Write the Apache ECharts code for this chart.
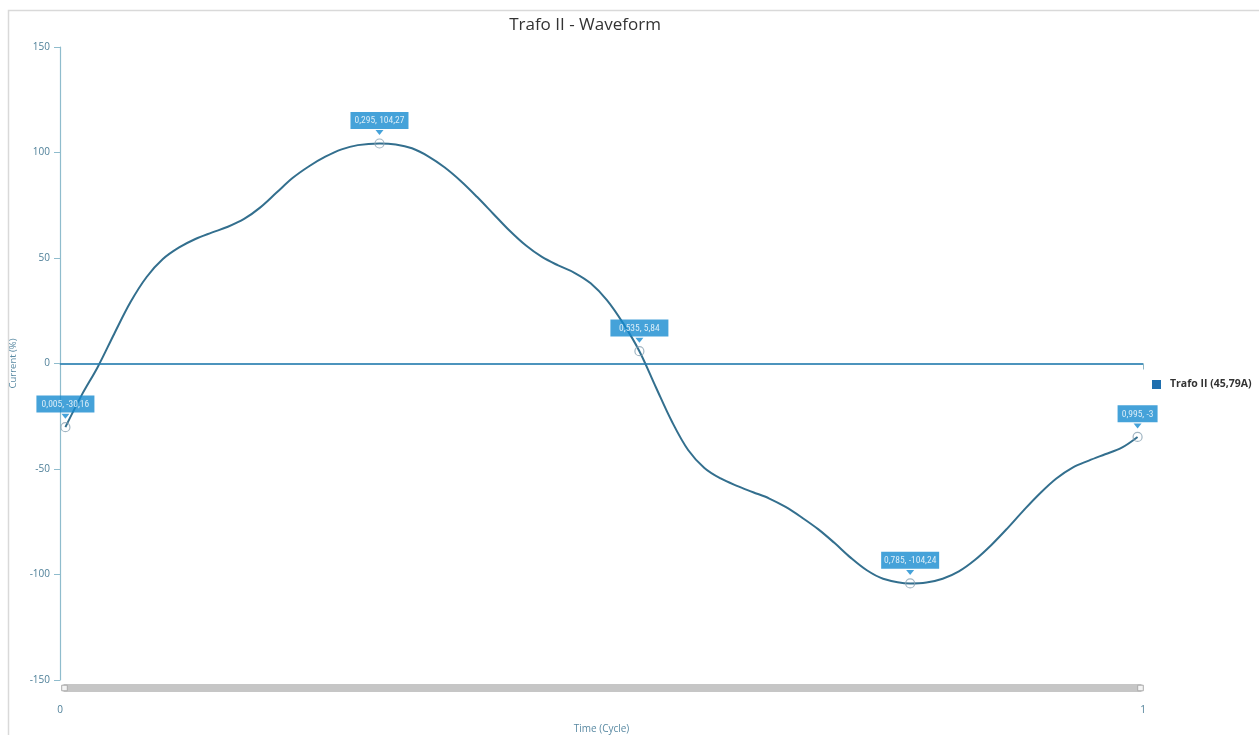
<!DOCTYPE html>
<html>
<head>
<meta charset="utf-8">
<script src="https://cdn.jsdelivr.net/npm/echarts@6/dist/echarts.min.js"></script>
<style>
html,body{margin:0;padding:0;background:#fff;}
#c{width:1259px;height:735px;}
</style>
</head>
<body>
<div id="c"></div>
<script>
// ---- data ----
const seriesName = 'Trafo II (45,79A)';
const titleText = 'Trafo II - Waveform';
const timeValues = [0.005,0.02,0.035,0.05,0.065,0.08,0.095,0.11,0.125,0.14,0.155,0.17,0.185,0.2,0.215,0.23,0.245,0.26,0.275,0.295,0.31,0.325,0.34,0.355,0.37,0.385,0.4,0.415,0.43,0.445,0.46,0.475,0.49,0.505,0.52,0.535,0.55,0.565,0.58,0.595,0.61,0.625,0.64,0.655,0.67,0.685,0.7,0.715,0.73,0.745,0.76,0.785,0.8,0.815,0.83,0.845,0.86,0.875,0.89,0.905,0.92,0.935,0.95,0.965,0.98,0.995];
const currentValues = [-30.16,-15,-1.5,14,29,41,49.5,55,59,62,64.8,68.5,74,81,88,93.5,98,101.5,103.5,104.27,103.8,102,98.2,93,86.5,79,71,63,56,50.5,46.5,43,38,30,19,5.84,-11,-27.5,-41,-49.5,-54.5,-58,-61,-64,-68,-73,-78.5,-85,-92,-98,-102,-104.24,-103.8,-102,-98.5,-93,-86,-78,-69.5,-61.5,-54.5,-49.3,-46,-43,-40,-34.8];
const markTimes = [0.005,0.295,0.535,0.785,0.995];
const markValues = [-30.16,104.27,5.84,-104.24,-34.8];
const yTicks = {min:-150, max:150, interval:50};
const xTicks = {min:0, max:1, interval:1};
const yAxisName = 'Current (%)';
const xAxisName = 'Time (Cycle)';

const fmt = (n, d) => n.toFixed(d).replace('.', ',');
const lineData = timeValues.map((t, i) => [t, currentValues[i]]);
const markData = markTimes.map((t, i) => {
  const item = { value: [t, markValues[i]] };
  if (i === markTimes.length - 1) item.label = { width: 36 };
  return item;
});
const labelFont = '"Liberation Sans Narrow", "Roboto Condensed", Roboto, sans-serif';

const chart = echarts.init(document.getElementById('c'));
chart.setOption({
  animation: false,
  backgroundColor: '#fff',
  graphic: [{
    type: 'rect', silent: true, z: -1,
    shape: { x: 8.5, y: 10.5, width: 1400, height: 900 },
    style: { fill: 'none', stroke: '#d9d9d9', lineWidth: 1.5 }
  }],
  title: {
    text: titleText, left: 580, top: 12, textAlign: 'center',
    textStyle: { fontSize: 17, fontWeight: 'normal', color: '#333', fontFamily: 'Open Sans' }
  },
  legend: {
    data: [{ name: seriesName, itemStyle: { color: '#1f6fae' } }],
    orient: 'vertical', left: 1152, top: 379, padding: 0,
    itemWidth: 9, itemHeight: 9, itemGap: 4, icon: 'rect',
    textStyle: { fontSize: 10.5, fontWeight: 'bold', color: '#333', fontFamily: 'Open Sans', padding: [0, 0, 0, 4] }
  },
  grid: { left: 60, right: 116, top: 47, bottom: 55, outerBoundsMode: 'none', containLabel: false },
  xAxis: {
    type: 'value', min: xTicks.min, max: xTicks.max, interval: xTicks.interval,
    offset: 15,
    name: xAxisName, nameLocation: 'middle', nameGap: 29,
    nameTextStyle: { fontSize: 10, color: '#5a8aa3', fontFamily: 'Open Sans' },
    axisLine: { show: true, lineStyle: { color: '#9cc4d0', width: 1.5 } },
    axisTick: { show: true, length: 6, lineStyle: { color: '#8fb8c6' } },
    axisLabel: { fontSize: 10, color: '#4d7f98', margin: 10, fontFamily: 'Open Sans' },
    splitLine: { show: false }
  },
  yAxis: {
    type: 'value', min: yTicks.min, max: yTicks.max, interval: yTicks.interval,
    name: yAxisName, nameLocation: 'middle', nameGap: 33, nameRotate: 90,
    nameTextStyle: { fontSize: 9.5, color: '#5a8aa3', fontFamily: 'Open Sans' },
    axisLine: { show: true, lineStyle: { color: '#8fbccd', width: 1.2 } },
    axisTick: { show: true, length: 6, lineStyle: { color: '#8fbccd' } },
    axisLabel: { fontSize: 10, color: '#4d7f98', margin: 10, fontFamily: 'Open Sans' },
    splitLine: { show: false }
  },
  dataZoom: [{
    type: 'slider', xAxisIndex: 0, start: 0, end: 100,
    left: 62, right: 119, top: 684, height: 8,
    showDetail: false, showDataShadow: false, brushSelect: false,
    backgroundColor: 'rgba(0,0,0,0)', borderColor: 'rgba(0,0,0,0)',
    fillerColor: '#c6c6c6',
    handleIcon: 'path://M0,0 L10,0 L10,10 L0,10 Z',
    handleSize: '70%',
    handleStyle: { color: '#f4f4f4', borderColor: '#aaa', borderWidth: 1 },
    moveHandleSize: 0,
    dataBackground: { lineStyle: { opacity: 0 }, areaStyle: { opacity: 0 } },
    selectedDataBackground: { lineStyle: { opacity: 0 }, areaStyle: { opacity: 0 } }
  }],
  series: [
    {
      name: seriesName, type: 'line', data: lineData,
      smooth: 0.35, showSymbol: false, symbol: 'none',
      lineStyle: { color: '#336f8e', width: 2 },
      itemStyle: { color: '#1f6fae' },
      z: 3,
      markLine: {
        silent: true, symbol: 'none', label: { show: false },
        lineStyle: { color: '#2a7fb3', width: 1.5, type: 'solid' },
        data: [{ yAxis: 0 }]
      }
    },
    {
      name: 'marks', type: 'scatter', data: markData,
      symbol: 'circle', symbolSize: 9,
      itemStyle: { color: 'rgba(255,255,255,0)', borderColor: '#8aa3b3', borderWidth: 1.2 },
      z: 5,
      label: {
        show: true, position: 'top', distance: 9.5,
        formatter: p => fmt(p.value[0], 3) + ', ' + fmt(p.value[1], 2),
        color: '#fff', fontSize: 9.5, fontFamily: labelFont,
        backgroundColor: '#168bd0', padding: [4, 2, 3, 2],
        width: 54, overflow: 'truncate', ellipsis: '', align: 'center'
      }
    },
    {
      name: 'pointers', type: 'scatter', data: markTimes.map((t, i) => [t, markValues[i]]),
      symbol: 'path://M0,0 L10,0 L5,6 Z', symbolSize: [8, 5], symbolOffset: [0, -11],
      itemStyle: { color: '#168bd0' }, silent: true, z: 6
    }
  ]
});
</script>
</body>
</html>
